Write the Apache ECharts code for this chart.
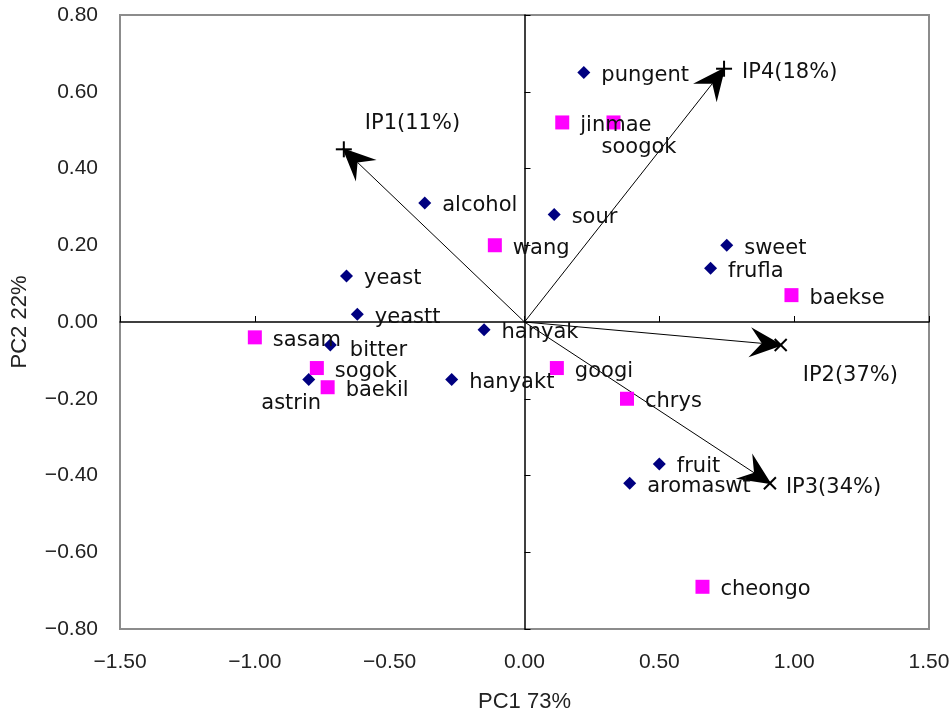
<!DOCTYPE html>
<html><head><meta charset="utf-8">
<script src="https://cdn.jsdelivr.net/npm/echarts@6/dist/echarts.min.js"></script>
<style>html,body{margin:0;padding:0;background:#fff}#c{width:952px;height:711px}</style>
</head><body><div id="c"></div>
<script>
// ---- data ----
const attrNames = ['pungent','alcohol','sour','yeast','yeastt','bitter','astrin','hanyak','hanyakt','sweet','frufla','fruit','aromaswt'];
const attrX = [0.22,-0.37,0.11,-0.66,-0.62,-0.72,-0.80,-0.15,-0.27,0.75,0.69,0.50,0.39];
const attrY = [0.65,0.31,0.28,0.12,0.02,-0.06,-0.15,-0.02,-0.15,0.20,0.14,-0.37,-0.42];

const sampleNames = ['jinmae','soogok','wang','sasam','sogok','baekil','baekse','googi','chrys','cheongo'];
const sampleX = [0.14,0.33,-0.11,-1.00,-0.77,-0.73,0.99,0.12,0.38,0.66];
const sampleY = [0.52,0.52,0.20,-0.04,-0.12,-0.17,0.07,-0.12,-0.20,-0.69];

const vectorNames = ['IP1(11%)','IP2(37%)','IP3(34%)','IP4(18%)'];
const vectorX = [-0.67,0.95,0.91,0.74];
const vectorY = [0.45,-0.06,-0.42,0.66];

const xAxisTitle = 'PC1 73%';
const yAxisTitle = 'PC2 22%';
const xRange = [-1.5, 1.5], xStep = 0.5;
const yRange = [-0.8, 0.8], yStep = 0.2;

// ---- label placement / marker style (style only) ----
const labelOffsets = { soogok: [-30, 25], bitter: [2, 6], astrin: [-65, 24] };
const vectorLabelOffsets = { 'IP1(11%)': [21, -26], 'IP2(37%)': [22, 31], 'IP3(34%)': [16, 4], 'IP4(18%)': [18, 4] };
const vectorMarker = { 'IP1(11%)': 'plus', 'IP2(37%)': 'cross', 'IP3(34%)': 'cross', 'IP4(18%)': 'plus' };

const LABEL_FONT = 'DejaVu Sans';
const fmt = v => Math.abs(v) < 1e-9 ? '0.00' : v.toFixed(2).replace('-', '\u2212');

function pts(names, xs, ys) {
  return names.map((n, i) => ({
    name: n, value: [xs[i], ys[i]],
    label: { offset: labelOffsets[n] || [0, 3] }
  }));
}

const chart = echarts.init(document.getElementById('c'), null, { renderer: 'canvas' });
const baseAxisLabel = { color: '#222', fontSize: 21, fontFamily: 'Liberation Sans, Arial, sans-serif' };
const nameStyle = { color: '#222', fontSize: 22, fontFamily: 'Liberation Sans, Arial, sans-serif' };

chart.setOption({
  animation: false,
  backgroundColor: '#fff',
  grid: { left: 120, top: 15, right: 23, bottom: 82, show: true, borderColor: '#8c8c8c', borderWidth: 2,
          containLabel: false, outerBoundsMode: 'none' },
  xAxis: [
    { type: 'value', min: xRange[0], max: xRange[1], interval: xStep, position: 'bottom',
      axisLine: { show: false, onZero: false }, axisTick: { show: false }, splitLine: { show: false },
      axisLabel: Object.assign({ margin: 23, formatter: fmt }, baseAxisLabel),
      name: xAxisTitle, nameLocation: 'middle', nameGap: 62, nameTextStyle: nameStyle },
    { type: 'value', min: xRange[0], max: xRange[1], interval: xStep, position: 'bottom',
      axisLine: { show: true, onZero: true, lineStyle: { color: '#000', width: 1.5 } },
      axisTick: { show: true, inside: true, length: 6, lineStyle: { color: '#000', width: 1 } },
      axisLabel: { show: false }, splitLine: { show: false } }
  ],
  yAxis: [
    { type: 'value', min: yRange[0], max: yRange[1], interval: yStep, position: 'left',
      axisLine: { show: false, onZero: false }, axisTick: { show: false }, splitLine: { show: false },
      axisLabel: Object.assign({ margin: 22, formatter: fmt }, baseAxisLabel),
      name: yAxisTitle, nameLocation: 'middle', nameGap: 89, nameTextStyle: nameStyle },
    { type: 'value', min: yRange[0], max: yRange[1], interval: yStep, position: 'left',
      axisLine: { show: true, onZero: true, lineStyle: { color: '#000', width: 1.5 } },
      axisTick: { show: true, inside: true, length: 6, lineStyle: { color: '#000', width: 1 } },
      axisLabel: { show: false }, splitLine: { show: false } }
  ],
  series: [
    { type: 'custom', xAxisIndex: 0, yAxisIndex: 0, z: 3,
      data: vectorNames.map((n, i) => ({ name: n, value: [vectorX[i], vectorY[i]] })),
      encode: { x: 0, y: 1 },
      renderItem: function (params, api) {
        const p0 = api.coord([0, 0]);
        const p1 = api.coord([api.value(0), api.value(1)]);
        const dx = p1[0] - p0[0], dy = p1[1] - p0[1], len = Math.hypot(dx, dy);
        const ux = dx / len, uy = dy / len, nx = -uy, ny = ux;
        const L = 31, W = 15, N = 19;
        const tip = [p1[0] + ux * 2, p1[1] + uy * 2];
        const back = [p1[0] - ux * L, p1[1] - uy * L];
        const notch = [p1[0] - ux * N, p1[1] - uy * N];
        const name = vectorNames[params.dataIndex];
        const off = vectorLabelOffsets[name] || [16, 0];
        const s = 8, c = 6;
        const marker = vectorMarker[name] === 'cross'
          ? [
              { type: 'line', shape: { x1: p1[0] - c, y1: p1[1] - c, x2: p1[0] + c, y2: p1[1] + c }, style: { stroke: '#000', lineWidth: 2 } },
              { type: 'line', shape: { x1: p1[0] - c, y1: p1[1] + c, x2: p1[0] + c, y2: p1[1] - c }, style: { stroke: '#000', lineWidth: 2 } }
            ]
          : [
              { type: 'line', shape: { x1: p1[0] - s, y1: p1[1], x2: p1[0] + s, y2: p1[1] }, style: { stroke: '#000', lineWidth: 2 } },
              { type: 'line', shape: { x1: p1[0], y1: p1[1] - s, x2: p1[0], y2: p1[1] + s }, style: { stroke: '#000', lineWidth: 2 } }
            ];
        return { type: 'group', children: [
          { type: 'line', shape: { x1: p0[0], y1: p0[1], x2: notch[0], y2: notch[1] }, style: { stroke: '#000', lineWidth: 1 } },
          { type: 'polygon', shape: { points: [tip, [back[0] + nx * W, back[1] + ny * W], notch, [back[0] - nx * W, back[1] - ny * W]] }, style: { fill: '#000' } }
        ].concat(marker).concat([
          { type: 'text', x: p1[0] + off[0], y: p1[1] + off[1],
            style: { text: name, fill: '#111', fontSize: 21, fontFamily: LABEL_FONT, align: 'left', verticalAlign: 'middle' } }
        ]) };
      }
    },
    { type: 'scatter', name: 'attributes', xAxisIndex: 0, yAxisIndex: 0, z: 4,
      symbol: 'diamond', symbolSize: 13,
      itemStyle: { color: '#000080', opacity: 1 },
      label: { show: true, position: 'right', distance: 11, formatter: '{b}', color: '#111', fontSize: 21, fontFamily: LABEL_FONT },
      data: pts(attrNames, attrX, attrY) },
    { type: 'scatter', name: 'samples', xAxisIndex: 0, yAxisIndex: 0, z: 4,
      symbol: 'rect', symbolSize: 14,
      itemStyle: { color: '#FF00FF', opacity: 1 },
      label: { show: true, position: 'right', distance: 11, formatter: '{b}', color: '#111', fontSize: 21, fontFamily: LABEL_FONT },
      data: pts(sampleNames, sampleX, sampleY) }
  ]
});
</script>
</body></html>
